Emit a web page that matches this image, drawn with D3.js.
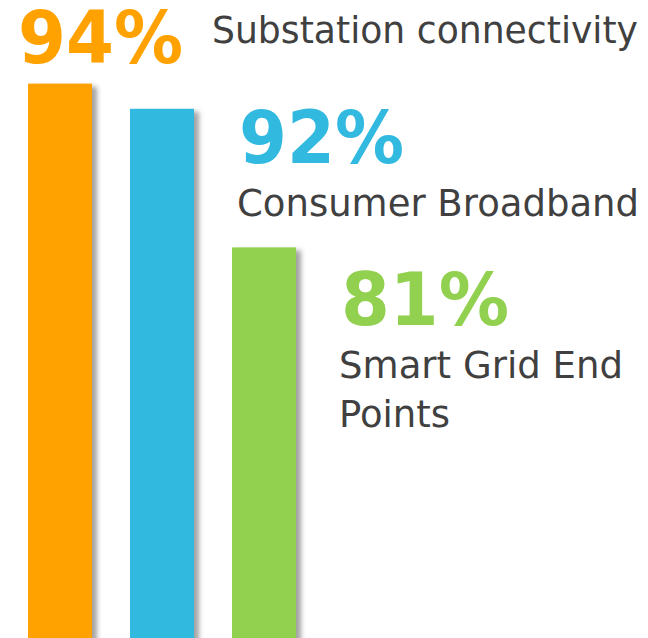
<!DOCTYPE html>
<html>
<head>
<meta charset="utf-8">
<script src="https://cdn.jsdelivr.net/npm/d3@7"></script>
<style>
  body { margin: 0; background: #fff; }
  svg { display: block; }
</style>
</head>
<body>
<div id="chart"></div>
<script>
// chart values
var categories = ["Substation connectivity", "Consumer Broadband", "Smart Grid End Points"];
var values = [94, 92, 81];
var colors = ["#FFA200", "#31B9E0", "#92D050"];
// label lines as they wrap in the picture
var labelLines = [["Substation connectivity"], ["Consumer Broadband"], ["Smart Grid End", "Points"]];

var width = 648, height = 638;

var svg = d3.select("#chart")
  .append("svg")
  .attr("width", width)
  .attr("height", height);

// soft shadow on the right side of each bar
var defs = svg.append("defs");
var f = defs.append("filter").attr("id", "shadow")
  .attr("x", "-20%").attr("y", "-5%").attr("width", "160%").attr("height", "120%");
f.append("feDropShadow")
  .attr("dx", 5).attr("dy", 3)
  .attr("stdDeviation", 2.5)
  .attr("flood-color", "#555")
  .attr("flood-opacity", 0.55);

var x = d3.scaleBand()
  .domain(categories)
  .range([28, 296])
  .paddingInner(38 / 102)
  .paddingOuter(0);

// value axis does not start at zero in the original
var y = d3.scaleLinear()
  .domain([50, 100])
  .range([height, 8]);

svg.append("g")
  .selectAll("rect")
  .data(values)
  .enter()
  .append("rect")
  .attr("x", function(d, i) { return x(categories[i]); })
  .attr("y", function(d) { return y(d); })
  .attr("width", x.bandwidth())
  .attr("height", function(d) { return height - y(d) + 10; })
  .attr("fill", function(d, i) { return colors[i]; })
  .attr("filter", "url(#shadow)");

// label placement: first label sits above its bar, the others to the right
function labelPos(i) {
  var bx = x(categories[i]), by = y(values[i]);
  if (i == 0) return { px: bx - 10, py: by - 21, dx: bx + 184, dy: by - 41 };
  var off = i == 1 ? 54 : 78;
  return { px: bx + x.bandwidth() + 45, py: by + off, dx: bx + x.bandwidth() + 43, dy: by + off + 53 };
}

var pctWidths = [165, 165, 168];
var lineWidths = [[426], [402], [284, 111]];

var labels = svg.append("g")
  .selectAll("g")
  .data(values)
  .enter()
  .append("g");

labels.append("text")
  .attr("x", function(d, i) { return labelPos(i).px; })
  .attr("y", function(d, i) { return labelPos(i).py; })
  .attr("textLength", function(d, i) { return pctWidths[i]; })
  .attr("lengthAdjust", "spacingAndGlyphs")
  .style("font-family", "'DejaVu Sans', Verdana, sans-serif")
  .style("font-weight", "bold")
  .style("font-size", "73px")
  .style("fill", function(d, i) { return colors[i]; })
  .text(function(d) { return d + "%"; });

labels.each(function(d, i) {
  var p = labelPos(i);
  d3.select(this).selectAll("text.desc")
    .data(labelLines[i])
    .enter()
    .append("text")
    .attr("class", "desc")
    .attr("x", p.dx)
    .attr("y", function(l, j) { return p.dy + j * 49; })
    .attr("textLength", function(l, j) { return lineWidths[i][j]; })
    .attr("lengthAdjust", "spacingAndGlyphs")
    .style("font-family", "'DejaVu Sans', Verdana, sans-serif")
    .style("font-size", "38px")
    .style("fill", "#404040")
    .text(function(l) { return l; });
});
</script>
</body>
</html>
